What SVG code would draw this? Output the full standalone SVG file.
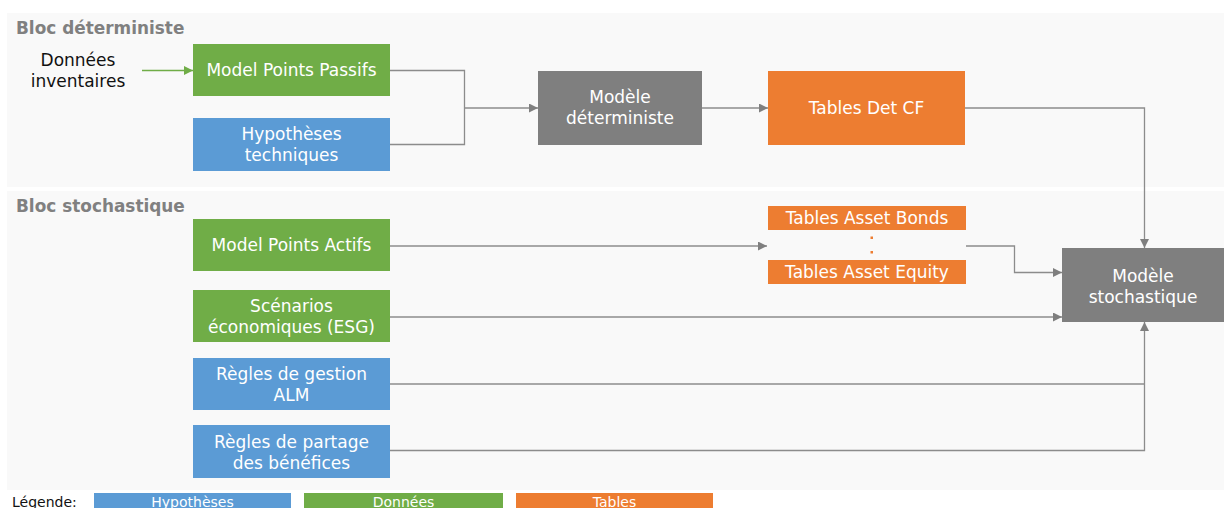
<svg xmlns="http://www.w3.org/2000/svg" width="1224" height="508" viewBox="0 0 1224 508">
<defs>
<style>
.panel{fill:#f9f9f9}
.green{fill:#70ad47}
.blue{fill:#5b9bd5}
.orange{fill:#ed7d31}
.gray{fill:#7f7f7f}
text{font-family:"DejaVu Sans","Liberation Sans",sans-serif;font-size:17px}
.lbl{fill:#ffffff;text-anchor:middle}
.title{fill:#808080;font-weight:bold;font-size:16.9px}
.blk{fill:#111111}
.conn{fill:none;stroke:#8c8c8c;stroke-width:1.3}
.leg{font-size:14px}
</style>
<marker id="ah" viewBox="0 0 10 10" refX="10" refY="5" markerWidth="9" markerHeight="9" markerUnits="userSpaceOnUse" orient="auto"><path d="M0,0 L10,5 L0,10 z" fill="#7f7f7f"/></marker>
<marker id="ahg" viewBox="0 0 10 10" refX="10" refY="5" markerWidth="9" markerHeight="9" markerUnits="userSpaceOnUse" orient="auto"><path d="M0,0 L10,5 L0,10 z" fill="#70ad47"/></marker>
</defs>
<rect width="1224" height="508" fill="#ffffff"/>
<rect class="panel" x="7" y="13" width="1217" height="174"/>
<rect class="panel" x="7" y="191" width="1217" height="299"/>
<text class="title" x="16" y="34">Bloc déterministe</text>
<text class="title" x="16" y="212">Bloc stochastique</text>

<g id="connectors">
<line x1="142" y1="70.5" x2="193" y2="70.5" stroke="#70ad47" stroke-width="1.3" marker-end="url(#ahg)"/>
<polyline class="conn" points="390,70.5 464.5,70.5 464.5,144.5 390,144.5"/>
<line class="conn" x1="464.5" y1="108" x2="538" y2="108" marker-end="url(#ah)"/>
<line class="conn" x1="702" y1="108" x2="768" y2="108" marker-end="url(#ah)"/>
<polyline class="conn" points="965,108 1144.5,108 1144.5,248" marker-end="url(#ah)"/>
<line class="conn" x1="390" y1="246" x2="767" y2="246" marker-end="url(#ah)"/>
<polyline class="conn" points="966,246 1014.5,246 1014.5,272.5 1062,272.5" marker-end="url(#ah)"/>
<line class="conn" x1="390" y1="317" x2="1062" y2="317" marker-end="url(#ah)"/>
<polyline class="conn" points="390,384 1144.5,384"/>
<polyline class="conn" points="390,450.5 1144.5,450.5 1144.5,322" marker-end="url(#ah)"/>
</g>

<g id="donnees-inventaires">
<text class="blk" x="78" y="66" text-anchor="middle">Données</text>
<text class="blk" x="78" y="87" text-anchor="middle">inventaires</text>
</g>
<g id="model-points-passifs">
<rect class="green" x="193" y="44" width="197" height="52"/>
<text class="lbl" x="291.5" y="76">Model Points Passifs</text>
</g>
<g id="hypotheses-techniques">
<rect class="blue" x="193" y="118" width="197" height="53"/>
<text class="lbl" x="291.5" y="140">Hypothèses</text>
<text class="lbl" x="291.5" y="161">techniques</text>
</g>
<g id="modele-deterministe">
<rect class="gray" x="538" y="71" width="164" height="74"/>
<text class="lbl" x="620" y="103">Modèle</text>
<text class="lbl" x="620" y="124">déterministe</text>
</g>
<g id="tables-det-cf">
<rect class="orange" x="768" y="71" width="197" height="74"/>
<text class="lbl" x="866.5" y="114">Tables Det CF</text>
</g>
<g id="model-points-actifs">
<rect class="green" x="193" y="219" width="197" height="52"/>
<text class="lbl" x="291.5" y="251">Model Points Actifs</text>
</g>
<g id="tables-asset">
<rect class="orange" x="768" y="206" width="198" height="24"/>
<text class="lbl" x="867" y="224">Tables Asset Bonds</text>
<rect x="870.5" y="236.5" width="2.5" height="2.5" fill="#ed7d31"/>
<rect x="870.5" y="251" width="2.5" height="2.5" fill="#ed7d31"/>
<rect class="orange" x="768" y="260" width="198" height="24"/>
<text class="lbl" x="867" y="278">Tables Asset Equity</text>
</g>
<g id="scenarios-economiques">
<rect class="green" x="193" y="290" width="197" height="52"/>
<text class="lbl" x="291.5" y="312">Scénarios</text>
<text class="lbl" x="291.5" y="333">économiques (ESG)</text>
</g>
<g id="regles-gestion">
<rect class="blue" x="193" y="358" width="197" height="52"/>
<text class="lbl" x="291.5" y="380">Règles de gestion</text>
<text class="lbl" x="291.5" y="401">ALM</text>
</g>
<g id="regles-partage">
<rect class="blue" x="193" y="425" width="197" height="53"/>
<text class="lbl" x="291.5" y="448">Règles de partage</text>
<text class="lbl" x="291.5" y="469">des bénéfices</text>
</g>
<g id="modele-stochastique">
<rect class="gray" x="1062" y="248" width="162" height="74"/>
<text class="lbl" x="1143" y="282">Modèle</text>
<text class="lbl" x="1143" y="303">stochastique</text>
</g>
<g id="legende">
<text class="blk leg" x="12" y="507">Légende:</text>
<rect class="blue" x="94" y="493" width="197" height="20"/>
<text class="lbl leg" x="192.5" y="507">Hypothèses</text>
<rect class="green" x="304" y="493" width="199" height="20"/>
<text class="lbl leg" x="403.5" y="507">Données</text>
<rect class="orange" x="516" y="493" width="197" height="20"/>
<text class="lbl leg" x="614.5" y="507">Tables</text>
</g>
</svg>
